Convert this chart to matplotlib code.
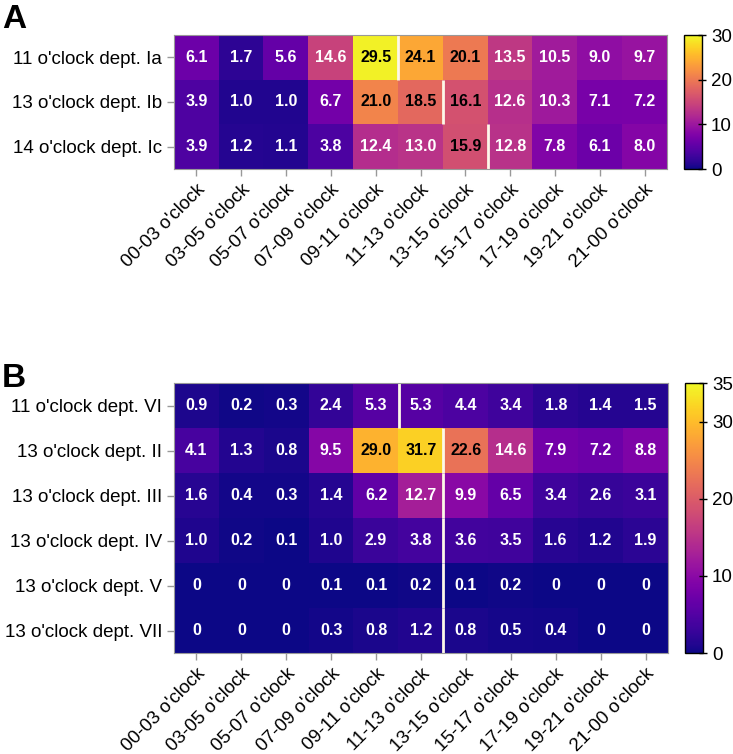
import matplotlib
matplotlib.use('Agg')
import matplotlib.pyplot as plt
import numpy as np

plt.rcParams['font.family'] = ['Liberation Sans', 'DejaVu Sans']

time_slots = ['00-03 o\'clock', '03-05 o\'clock', '05-07 o\'clock', '07-09 o\'clock',
              '09-11 o\'clock', '11-13 o\'clock', '13-15 o\'clock', '15-17 o\'clock',
              '17-19 o\'clock', '19-21 o\'clock', '21-00 o\'clock']

rows_a = ['11 o\'clock dept. Ia', '13 o\'clock dept. Ib', '14 o\'clock dept. Ic']
vals_a = [
    [6.1, 1.7, 5.6, 14.6, 29.5, 24.1, 20.1, 13.5, 10.5, 9.0, 9.7],
    [3.9, 1.0, 1.0, 6.7, 21.0, 18.5, 16.1, 12.6, 10.3, 7.1, 7.2],
    [3.9, 1.2, 1.1, 3.8, 12.4, 13.0, 15.9, 12.8, 7.8, 6.1, 8.0],
]
# column index where the marker line sits (left edge of that column)
marks_a = [5, 6, 7]

rows_b = ['11 o\'clock dept. VI', '13 o\'clock dept. II', '13 o\'clock dept. III',
          '13 o\'clock dept. IV', '13 o\'clock dept. V', '13 o\'clock dept. VII']
vals_b = [
    [0.9, 0.2, 0.3, 2.4, 5.3, 5.3, 4.4, 3.4, 1.8, 1.4, 1.5],
    [4.1, 1.3, 0.8, 9.5, 29.0, 31.7, 22.6, 14.6, 7.9, 7.2, 8.8],
    [1.6, 0.4, 0.3, 1.4, 6.2, 12.7, 9.9, 6.5, 3.4, 2.6, 3.1],
    [1.0, 0.2, 0.1, 1.0, 2.9, 3.8, 3.6, 3.5, 1.6, 1.2, 1.9],
    [0, 0, 0, 0.1, 0.1, 0.2, 0.1, 0.2, 0, 0, 0],
    [0, 0, 0, 0.3, 0.8, 1.2, 0.8, 0.5, 0.4, 0, 0],
]
marks_b = [5, 6, 6, 6, 6, 6]

FS = 13.5
W, H = 733, 754


def heatmap(ax, cax, vals, rows, marks, vmax, cticks):
    data = np.array(vals, dtype=float)
    im = ax.imshow(data, cmap='plasma', vmin=0, vmax=vmax, aspect='auto',
                   interpolation='nearest')
    for i in range(data.shape[0]):
        for j in range(data.shape[1]):
            v = data[i, j]
            txt = '0' if v == 0 else f'{v:.1f}'
            col = 'black' if v > 15 else 'white'
            ax.text(j, i, txt, ha='center', va='center', color=col,
                    fontsize=11.5, fontweight='bold')
    for i, m in enumerate(marks):
        ax.plot([m - 0.5, m - 0.5], [i - 0.5, i + 0.5], color='#fdf8e8', lw=2,
                solid_capstyle='butt')
    ax.set_xlim(-0.5, data.shape[1] - 0.5)
    ax.set_ylim(data.shape[0] - 0.5, -0.5)
    ax.set_xticks(range(len(time_slots)))
    ax.set_xticklabels(time_slots, rotation=45, ha='right', rotation_mode='anchor',
                       fontsize=FS)
    ax.set_yticks(range(len(rows)))
    ax.set_yticklabels(rows, fontsize=FS)
    ax.tick_params(color='#999999', length=5, width=1)
    for s in ax.spines.values():
        s.set_color('#999999')
    cb = ax.figure.colorbar(im, cax=cax, ticks=cticks)
    cb.ax.tick_params(labelsize=FS, length=6, width=1, direction='inout')
    cb.outline.set_linewidth(1)


fig = plt.figure(figsize=(W / 100, H / 100), dpi=100)

ax_a = fig.add_axes([174 / W, 1 - 169 / H, 493 / W, 134 / H])
cax_a = fig.add_axes([684 / W, 1 - 169 / H, 18 / W, 134 / H])
heatmap(ax_a, cax_a, vals_a, rows_a, marks_a, 30, [0, 10, 20, 30])

ax_b = fig.add_axes([174 / W, 1 - 653 / H, 494 / W, 270 / H])
cax_b = fig.add_axes([685 / W, 1 - 653 / H, 18 / W, 270 / H])
heatmap(ax_b, cax_b, vals_b, rows_b, marks_b, 35, [0, 10, 20, 30, 35])

fig.text(2 / W, 1 - 28 / H, 'A', fontsize=24, fontweight='bold', ha='left', va='baseline')
fig.text(2 / W, 1 - 387 / H, 'B', fontsize=24, fontweight='bold', ha='left', va='baseline')

fig.savefig('out.png', dpi=100)
